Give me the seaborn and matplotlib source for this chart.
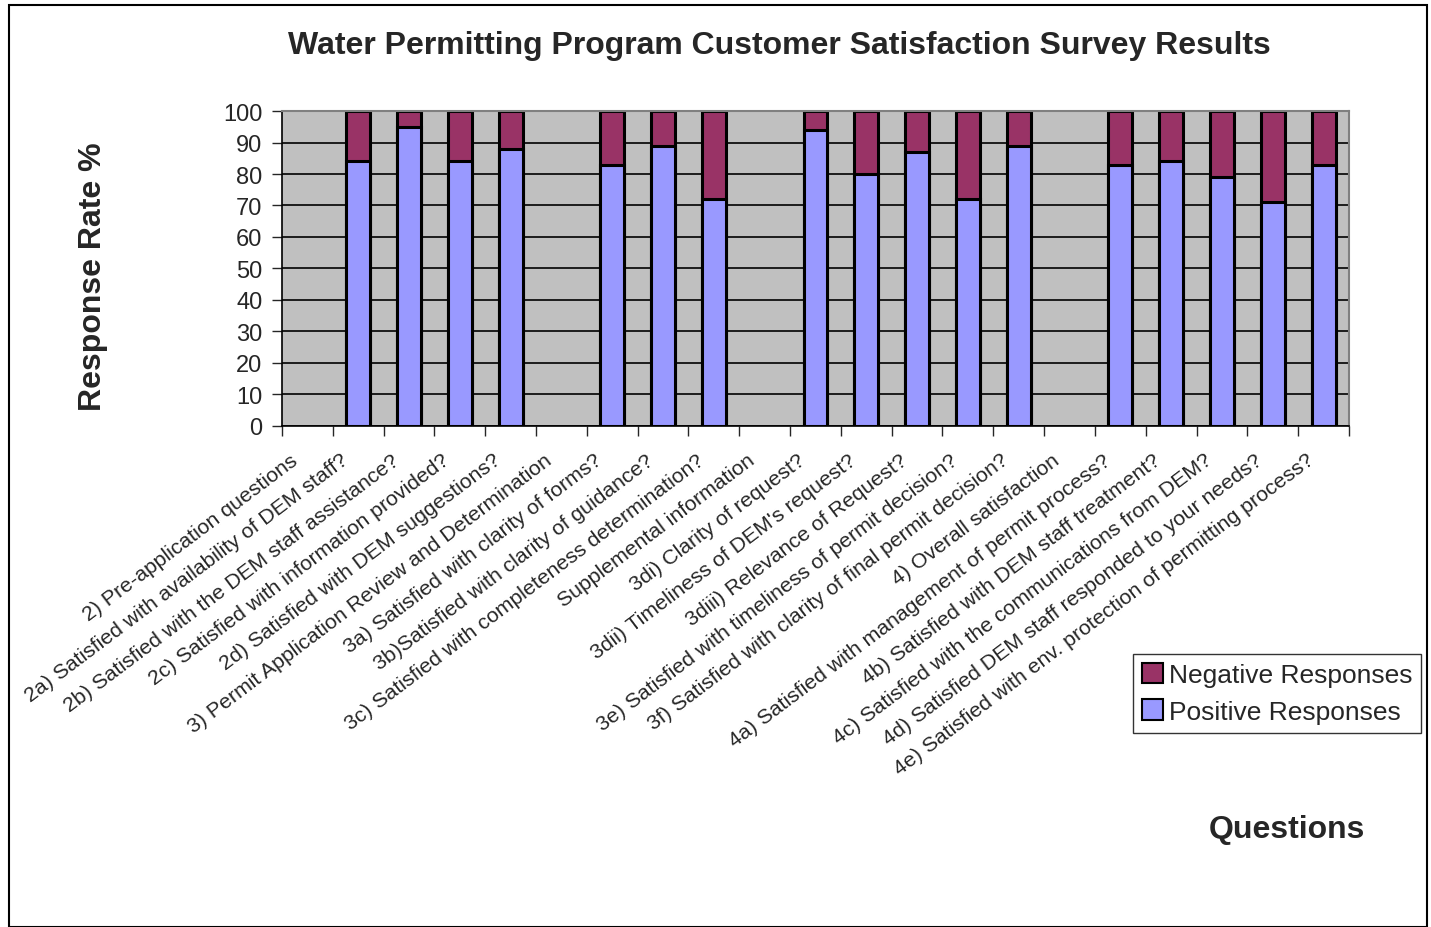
import seaborn as sns
import matplotlib.pyplot as plt
import matplotlib.patches as patches
import matplotlib.transforms as mtransforms
import pandas as pd
import numpy as np

# Survey questions (section headers have no responses)
questions = [
    "2) Pre-application questions",
    "2a) Satisfied with availability of DEM staff?",
    "2b) Satisfied with the DEM staff assistance?",
    "2c) Satisfied with information provided?",
    "2d) Satisfied with DEM suggestions?",
    "3) Permit Application Review and Determination",
    "3a) Satisfied with clarity of forms?",
    "3b)Satisfied with clarity of guidance?",
    "3c) Satisfied with completeness determination?",
    "Supplemental information",
    "3di) Clarity of request?",
    "3dii) Timeliness of DEM's request?",
    "3diii) Relevance of Request?",
    "3e) Satisfied with timeliness of permit decision?",
    "3f) Satisfied with clarity of final permit decision?",
    "4) Overall satisfaction",
    "4a) Satisfied with management of permit process?",
    "4b) Satisfied with DEM staff treatment?",
    "4c) Satisfied with the communications from DEM?",
    "4d) Satisfied DEM staff responded to your needs?",
    "4e) Satisfied with env. protection of permitting process?",
]
positive = [np.nan, 84, 95, 84, 88, np.nan, 83, 89, 72, np.nan,
            94, 80, 87, 72, 89, np.nan, 83, 84, 79, 71, 83]
negative = [np.nan, 16, 5, 16, 12, np.nan, 17, 11, 28, np.nan,
            6, 20, 13, 28, 11, np.nan, 17, 16, 21, 29, 17]

df = pd.DataFrame({"question": questions, "positive": positive, "negative": negative})
df["total"] = df["positive"] + df["negative"]

pos_color = "#9999FF"
neg_color = "#993366"

sns.set_style("white")
plt.rcParams["font.family"] = ["Liberation Sans", "DejaVu Sans"]

fig = plt.figure(figsize=(14.31, 9.28), dpi=100)
ax = fig.add_axes([0.197, 0.5399, 0.7457, 0.3394])
ax.set_facecolor("#C0C0C0")

# stacked bars: full height in negative colour, positive drawn on top
sns.barplot(data=df, x="question", y="total", order=questions, color=neg_color,
            width=0.47, edgecolor="black", linewidth=2.2, saturation=1, ax=ax)
sns.barplot(data=df, x="question", y="positive", order=questions, color=pos_color,
            width=0.47, edgecolor="black", linewidth=2.2, saturation=1, ax=ax)

ax.set_xlim(-0.5, len(questions) - 0.5)
ax.set_ylim(0, 100)
ax.set_yticks(range(0, 101, 10))
ax.yaxis.grid(True, color="black", linewidth=1.2)
ax.set_axisbelow(True)
ax.tick_params(axis="y", labelsize=17, length=7, width=1, direction="out", left=True, pad=7)

ax.set_xticks(range(len(questions)))
ax.set_xticklabels(questions, rotation=37, ha="right", rotation_mode="anchor", fontsize=15.3)
ax.tick_params(axis="x", length=0, pad=16)
ax.set_xticks(np.arange(-0.5, len(questions)), minor=True)
ax.tick_params(axis="x", which="minor", length=7, width=1, direction="out", bottom=True)

# nudge the slanted labels a little left, like the original
shift = mtransforms.ScaledTranslation(-0.18, -0.02, fig.dpi_scale_trans)
for lbl in ax.get_xticklabels():
    lbl.set_transform(lbl.get_transform() + shift)

ax.set_xlabel("")
ax.set_ylabel("")
for side in ["left", "bottom"]:
    ax.spines[side].set_color("black")
    ax.spines[side].set_linewidth(1.2)
for side in ["top", "right"]:
    ax.spines[side].set_color("#808080")
    ax.spines[side].set_linewidth(1.5)

fig.text(0.5444, 0.950, "Water Permitting Program Customer Satisfaction Survey Results",
         ha="center", va="center", fontsize=23, fontweight="bold")
fig.text(0.065, 0.7015, "Response Rate %", rotation=90, ha="center", va="center",
         fontsize=23, fontweight="bold")
fig.text(0.899, 0.1056, "Questions", ha="center", va="center", fontsize=23, fontweight="bold")

handles = [patches.Patch(facecolor=neg_color, edgecolor="black", linewidth=1.5, label="Negative Responses"),
           patches.Patch(facecolor=pos_color, edgecolor="black", linewidth=1.5, label="Positive Responses")]
leg = fig.legend(handles=handles, loc="upper left", bbox_to_anchor=(0.7918, 0.2942),
                 fontsize=19, frameon=True, fancybox=False, handlelength=0.8, handleheight=0.8,
                 handletextpad=0.2, borderpad=0.35, labelspacing=0.45, borderaxespad=0)
leg.get_frame().set_edgecolor("black")
leg.get_frame().set_linewidth(1)

# outer chart border
fig.patches.append(patches.Rectangle((0.006, 0.0), 0.991, 0.994, transform=fig.transFigure,
                                     fill=False, edgecolor="black", linewidth=1.5))

fig.savefig("out.png", dpi=100)
